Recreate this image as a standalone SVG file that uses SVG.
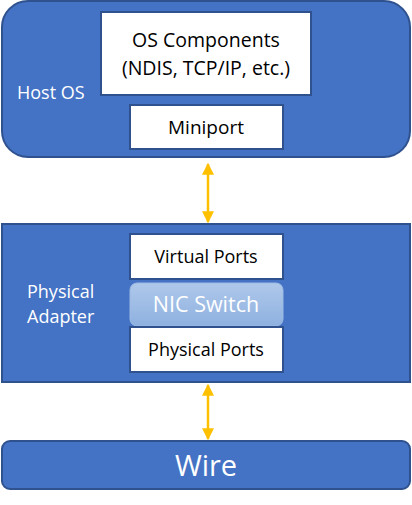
<svg xmlns="http://www.w3.org/2000/svg" width="412" height="505" viewBox="0 0 412 505">
<style>
.cont{fill:#4472C4;stroke:#2F528F;stroke-width:2}
.box{fill:#FFFFFF;stroke:#2F528F;stroke-width:2}
.t{font-family:"Open Sans","Noto Sans",sans-serif;fill:#000;text-anchor:middle}
.w{font-family:"Open Sans","Noto Sans",sans-serif;fill:#FFFFFF}
.conn{stroke:#FFC000;stroke-width:2.5;fill:none;marker-start:url(#ah);marker-end:url(#ah)}
</style>
<defs>
<marker id="ah" viewBox="0 0 10 10" refX="9" refY="5" markerWidth="4.8" markerHeight="4.8" markerUnits="strokeWidth" orient="auto-start-reverse">
<path d="M0,0 L10,5 L0,10 z" fill="#FFC000"/>
</marker>
<linearGradient id="nic" x1="0" y1="0" x2="0" y2="1">
<stop offset="0" stop-color="#AFC8EA"/>
<stop offset="1" stop-color="#8EB1E0"/>
</linearGradient>
</defs>
<g id="host-os">
<rect class="cont" x="2" y="1" width="408" height="156" rx="26"/>
<text class="w" x="17" y="99" font-size="18">Host OS</text>
</g>
<g id="os-components">
<rect class="box" x="101" y="12" width="210" height="83"/>
<text class="t" x="206" y="47" font-size="19.5">OS Components</text>
<text class="t" x="206" y="75" font-size="19.5">(NDIS, TCP/IP, etc.)</text>
</g>
<g id="miniport">
<rect class="box" x="130" y="105" width="153" height="44"/>
<text class="t" x="206" y="134" font-size="19">Miniport</text>
</g>
<g id="physical-adapter">
<rect class="cont" x="2" y="224" width="408" height="158"/>
<text class="w" x="27" y="298" font-size="18">Physical</text>
<text class="w" x="27" y="323" font-size="18">Adapter</text>
</g>
<g id="virtual-ports">
<rect class="box" x="130" y="234" width="153" height="45"/>
<text class="t" x="206" y="263" font-size="18">Virtual Ports</text>
</g>
<g id="nic-switch">
<rect x="130" y="283" width="153" height="43" rx="7" fill="url(#nic)" stroke="#9DBAE3" stroke-width="1"/>
<text class="w" x="206" y="312" font-size="21.5" text-anchor="middle">NIC Switch</text>
</g>
<g id="physical-ports">
<rect class="box" x="130" y="327" width="153" height="45"/>
<text class="t" x="206" y="356" font-size="18">Physical Ports</text>
</g>
<g id="wire">
<rect class="cont" x="2" y="441" width="408" height="48" rx="8"/>
<text class="w" x="206" y="476" font-size="29" text-anchor="middle">Wire</text>
</g>
<g id="connectors">
<line class="conn" x1="208" y1="164" x2="208" y2="222"/>
<line class="conn" x1="208" y1="385" x2="208" y2="439"/>
</g>
</svg>
